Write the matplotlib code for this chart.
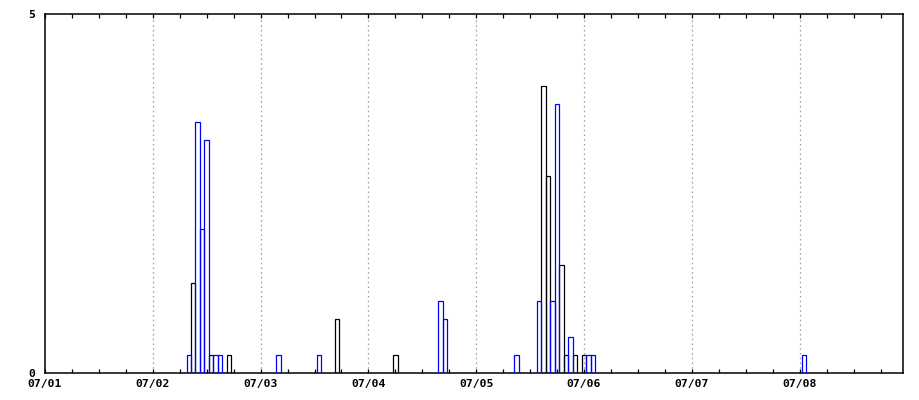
import matplotlib
matplotlib.use("Agg")
import matplotlib.pyplot as plt
from matplotlib.ticker import MultipleLocator

# hours since 07/01 00:00 (bar centres) and values
black_hours = [33, 37, 41, 65, 78, 111, 112, 115, 116, 118, 120]
black_vals = [1.25, 0.25, 0.25, 0.75, 0.25, 4.0, 2.75, 1.5, 0.25, 0.25, 0.25]
blue_hours = [32, 34, 35, 36, 38, 39, 52, 61, 88, 89, 105, 110, 113, 114, 117, 121, 122, 169]
blue_vals = [0.25, 3.5, 2.0, 3.25, 0.25, 0.25, 0.25, 0.25, 1.0, 0.75, 0.25, 1.0, 1.0, 3.75, 0.5, 0.25, 0.25, 0.25]
day_labels = ["07/01", "07/02", "07/03", "07/04", "07/05", "07/06", "07/07", "07/08"]

fig = plt.figure(figsize=(9.2, 4.0), dpi=100)
ax = fig.add_axes([45 / 920, 27 / 400, 858 / 920, 359 / 400])

for d in range(1, 8):
    ax.axvline(d * 24, color="#999999", linestyle=(0, (1.2, 2.6)), linewidth=0.9, zorder=0)

ax.bar(black_hours, black_vals, width=1.0, fill=False, edgecolor="#000000", linewidth=0.9, zorder=2)
ax.bar(blue_hours, blue_vals, width=1.0, fill=False, edgecolor="#0000ff", linewidth=0.9, zorder=3)

ax.set_xlim(0, 191)
ax.set_ylim(0, 5)

ax.set_xticks([d * 24 for d in range(len(day_labels))])
ax.set_xticklabels(day_labels, fontfamily="DejaVu Sans Mono", fontweight="bold", fontsize=8.2)
ax.xaxis.set_minor_locator(MultipleLocator(6))
ax.tick_params(axis="x", which="both", direction="in", top=True, bottom=True, length=3, width=0.9, pad=4)

ax.set_yticks([0, 5])
ax.set_yticklabels(["0", "5"], fontfamily="DejaVu Sans Mono", fontweight="bold", fontsize=8.2)
ax.tick_params(axis="y", length=0, pad=7)

for s in ax.spines.values():
    s.set_linewidth(1.1)
    s.set_color("black")

fig.savefig("out.png", dpi=100)
